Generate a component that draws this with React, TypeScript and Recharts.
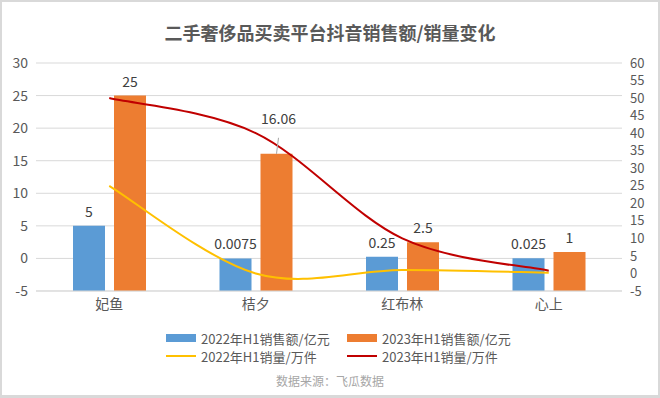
import { ComposedChart, Bar, Line, XAxis, YAxis, CartesianGrid, LabelList } from 'recharts';

const platforms = ['妃鱼', '桔夕', '红布林', '心上'];
const sales2022 = [5, 0.0075, 0.25, 0.025]; // 亿元
const sales2023 = [25, 16.06, 2.5, 1];
const volume2022 = [25, 0, 1, 0.2]; // 万件
const volume2023 = [50, 40, 10, 0.8];
const leftTicks = [-5, 0, 5, 10, 15, 20, 25, 30];
const rightTicks = [-5, 0, 5, 10, 15, 20, 25, 30, 35, 40, 45, 50, 55, 60];

const BLUE = '#5B9BD5';
const ORANGE = '#ED7D31';
const YELLOW = '#FFC000';
const RED = '#C00000';
const TEXT = '#595959';
const GRID = '#d9d9d9';
const FONT = '"Noto Sans CJK SC", "Noto Sans", sans-serif';

const data = platforms.map((name, i) => ({
  name,
  sales2022: sales2022[i],
  sales2023: sales2023[i],
  volume2022: volume2022[i],
  volume2023: volume2023[i],
}));

// Excel-like smoothed line (Catmull-Rom through every point)
function excelSmooth(context: any) {
  let pts: number[][] = [];
  return {
    areaStart() {},
    areaEnd() {},
    lineStart() {
      pts = [];
    },
    point(x: number, y: number) {
      pts.push([+x, +y]);
    },
    lineEnd() {
      if (!pts.length) return;
      context.moveTo(pts[0][0], pts[0][1]);
      for (let i = 0; i < pts.length - 1; i++) {
        const p0 = pts[i - 1] || pts[i];
        const p1 = pts[i];
        const p2 = pts[i + 1];
        const p3 = pts[i + 2] || p2;
        context.bezierCurveTo(
          p1[0] + (p2[0] - p0[0]) / 6,
          p1[1] + (p2[1] - p0[1]) / 6,
          p2[0] - (p3[0] - p1[0]) / 6,
          p2[1] - (p3[1] - p1[1]) / 6,
          p2[0],
          p2[1]
        );
      }
    },
  };
}

// labels above bars; the 16.06 one sits higher with a leader line like the original
function barLabel(values: number[], liftIndex = -1) {
  return (p: any) => {
    const vb = p.viewBox ?? {};
    const x = Number(vb.x ?? p.x);
    const y = Number(vb.y ?? p.y);
    const w = Number(vb.width ?? p.width);
    const h = Number(vb.height ?? p.height);
    const top = h < 0 ? y + h : y;
    const cx = x + w / 2;
    const lifted = p.index === liftIndex;
    const ty = lifted ? top - 30 : top - 9;
    return (
      <g key={`lbl-${p.index}`}>
        {lifted && <line x1={cx + 2} y1={top - 16} x2={cx} y2={top} stroke="#a6a6a6" strokeWidth={1} />}
        <text x={lifted ? cx + 2 : cx} y={ty} textAnchor="middle" fontSize={14} fill="#404040">
          {values[p.index]}
        </text>
      </g>
    );
  };
}

const legendItems = [
  { label: '2022年H1销售额/亿元', color: BLUE, kind: 'bar', left: 166, top: 338 },
  { label: '2023年H1销售额/亿元', color: ORANGE, kind: 'bar', left: 347, top: 338 },
  { label: '2022年H1销量/万件', color: YELLOW, kind: 'line', left: 166, top: 356 },
  { label: '2023年H1销量/万件', color: RED, kind: 'line', left: 347, top: 356 },
];

export default function App() {
  return (
    <div
      style={{
        position: 'absolute',
        left: 0,
        top: 0,
        width: 660,
        height: 398,
        background: '#fff',
        fontFamily: FONT,
      }}
    >
      <div
        style={{
          position: 'absolute',
          left: 0,
          width: 660,
          top: 20,
          lineHeight: '24px',
          textAlign: 'center',
          fontSize: 18,
          fontWeight: 700,
          color: TEXT,
        }}
      >
        二手奢侈品买卖平台抖音销售额/销量变化
      </div>

      <div style={{ position: 'absolute', left: 0, top: 0 }}>
        <ComposedChart
          width={660}
          height={398}
          data={data}
          margin={{ top: 63, right: 0, bottom: 77, left: 0 }}
          barGap={9}
          barSize={32}
        >
          <CartesianGrid yAxisId="left" vertical={false} stroke={GRID} />
          <XAxis
            dataKey="name"
            height={30}
            tickLine={false}
            axisLine={{ stroke: GRID }}
            tick={{ fontSize: 14, fill: TEXT }}
          />
          <YAxis
            yAxisId="left"
            width={36}
            domain={[leftTicks[0], leftTicks[leftTicks.length - 1]]}
            ticks={leftTicks}
            interval={0}
            tickLine={false}
            axisLine={false}
            tick={{ fontSize: 14, fill: TEXT }}
          />
          <YAxis
            yAxisId="right"
            orientation="right"
            width={38}
            domain={[rightTicks[0], rightTicks[rightTicks.length - 1]]}
            ticks={rightTicks}
            interval={0}
            tickLine={false}
            axisLine={false}
            tick={{ fontSize: 13, fill: TEXT }}
          />
          {/* bars start from the axis floor (-5) as in the Excel original */}
          <Bar
            yAxisId="left"
            dataKey={(d: any) => [leftTicks[0], d.sales2022]}
            fill={BLUE}
            isAnimationActive={false}
          >
            <LabelList content={barLabel(sales2022)} />
          </Bar>
          <Bar
            yAxisId="left"
            dataKey={(d: any) => [leftTicks[0], d.sales2023]}
            fill={ORANGE}
            isAnimationActive={false}
          >
            <LabelList content={barLabel(sales2023, 1)} />
          </Bar>
          <Line
            yAxisId="right"
            type={excelSmooth as any}
            dataKey="volume2022"
            stroke={YELLOW}
            strokeWidth={2}
            dot={false}
            activeDot={false}
            isAnimationActive={false}
          />
          <Line
            yAxisId="right"
            type={excelSmooth as any}
            dataKey="volume2023"
            stroke={RED}
            strokeWidth={2}
            dot={false}
            activeDot={false}
            isAnimationActive={false}
          />
        </ComposedChart>
      </div>

      {legendItems.map((it) => (
        <div
          key={it.label}
          style={{
            position: 'absolute',
            left: it.left,
            top: it.top - 9,
            height: 18,
            display: 'flex',
            alignItems: 'center',
            fontSize: 13,
            color: TEXT,
            whiteSpace: 'nowrap',
          }}
        >
          <span
            style={{
              display: 'inline-block',
              width: 30,
              height: it.kind === 'bar' ? 8 : 2,
              background: it.color,
              marginRight: 5,
            }}
          />
          {it.label}
        </div>
      ))}

      <div
        style={{
          position: 'absolute',
          left: 0,
          width: 660,
          top: 372,
          lineHeight: '18px',
          textAlign: 'center',
          fontSize: 12,
          color: '#a6a6a6',
        }}
      >
        数据来源：飞瓜数据
      </div>

      <div
        style={{
          position: 'absolute',
          left: 0,
          top: 0,
          width: 660,
          height: 398,
          boxSizing: 'border-box',
          border: `2px solid ${GRID}`,
          borderBottomWidth: 3,
          pointerEvents: 'none',
        }}
      />
    </div>
  );
}
